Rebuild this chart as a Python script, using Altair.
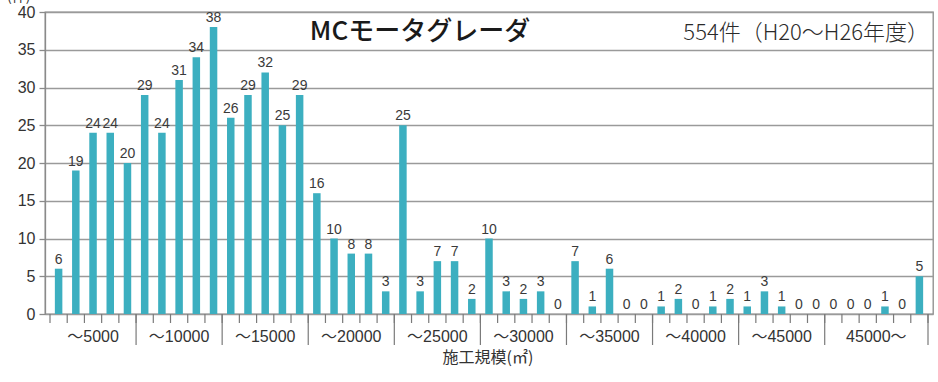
import altair as alt
import pandas as pd

# Number of works per 1,000 m2 construction-scale bin
counts = [
    6, 19, 24, 24, 20,
    29, 24, 31, 34, 38,
    26, 29, 32, 25, 29,
    16, 10, 8, 8, 3,
    25, 3, 7, 7, 2,
    10, 3, 2, 3, 0,
    7, 1, 6, 0, 0,
    1, 2, 0, 1, 2,
    1, 3, 1, 0, 0,
    0, 0, 0, 1, 0, 5,
]
group_labels = ["～5000", "～10000", "～15000", "～20000", "～25000",
                "～30000", "～35000", "～40000", "～45000", "45000～"]
group_sizes = [5, 5, 5, 5, 5, 5, 5, 5, 5, 6]
y_ticks = [0, 5, 10, 15, 20, 25, 30, 35, 40]

title_text = "MCモータグレーダ"
total_text = "554件（H20～H26年度）"
x_title = "施工規模(㎡)"
y_unit = "(件)"

n_bins = len(counts)
bars_df = pd.DataFrame({"i": list(range(n_bins)), "count": counts})

# group start / end in bin units
starts, s = [], 0
for g in group_sizes:
    starts.append(s)
    s += g
groups_df = pd.DataFrame({
    "label": group_labels,
    "start": starts,
    "size": group_sizes,
})
bounds_df = pd.DataFrame({"b": list(range(n_bins + 1))})
sep_df = pd.DataFrame({"b": starts[1:] + [n_bins]})

W, H = 888, 302
FONT = "Liberation Sans, Noto Sans CJK JP"
JFONT = "Noto Sans CJK JP"
BAR = "#3cafc0"
TXT = "#333333"

x_scale = alt.Scale(domain=[0, n_bins], nice=False, zero=False)
y_scale = alt.Scale(domain=[0, 40], nice=False)
y_axis = alt.Axis(values=y_ticks, title=None, grid=True,
                  gridColor="#9a9a9a", gridWidth=1.3,
                  domainColor="#8a8a8a", domainWidth=1.3,
                  tickColor="#8a8a8a", tickSize=6, tickWidth=1.3,
                  labelFont=FONT, labelFontSize=16,
                  labelColor=TXT, labelPadding=4)

bars = alt.Chart(bars_df).transform_calculate(
    c="datum.i + 0.5"
).mark_bar(color=BAR, width=7.5).encode(
    x=alt.X("c:Q", scale=x_scale, axis=None),
    y=alt.Y("count:Q", scale=y_scale, axis=y_axis),
)

values = alt.Chart(bars_df).transform_calculate(
    c="datum.i + 0.5"
).mark_text(font=FONT, fontSize=14, color="#3a3a3a", baseline="bottom", dy=-2).encode(
    x=alt.X("c:Q", scale=x_scale, axis=None),
    y=alt.Y("count:Q", scale=y_scale, axis=y_axis),
    text="count:Q",
)

# short ticks at every bin boundary
small_ticks = alt.Chart(bounds_df).mark_rule(color="#7a7a7a", strokeWidth=1.2).encode(
    x=alt.X("b:Q", scale=x_scale, axis=None),
    y=alt.value(H),
    y2=alt.value(H + 9),
)

# longer separators between groups
separators = alt.Chart(sep_df).mark_rule(color="#7a7a7a", strokeWidth=1.2).encode(
    x=alt.X("b:Q", scale=x_scale, axis=None),
    y=alt.value(H),
    y2=alt.value(H + 31),
)

group_text = alt.Chart(groups_df).transform_calculate(
    mid="datum.start + datum.size / 2"
).mark_text(font=FONT, fontSize=16, color=TXT, baseline="middle").encode(
    x=alt.X("mid:Q", scale=x_scale, axis=None),
    y=alt.value(H + 23),
    text="label:N",
)

xtitle = alt.Chart(pd.DataFrame({"t": [x_title]})).mark_text(
    font=JFONT, fontSize=16, color=TXT, baseline="middle"
).encode(x=alt.value(443), y=alt.value(H + 44), text="t:N")

ylabel = alt.Chart(pd.DataFrame({"t": [y_unit]})).mark_text(
    font=JFONT, fontSize=14, color=TXT, baseline="bottom", align="left"
).encode(x=alt.value(-38), y=alt.value(-8), text="t:N")

main_title = alt.Chart(pd.DataFrame({"t": [title_text]})).mark_text(
    font=JFONT, fontSize=26, fontWeight=500,
    color="#1a1a1a", baseline="middle"
).encode(x=alt.value(375), y=alt.value(20), text="t:N")

total = alt.Chart(pd.DataFrame({"t": [total_text]})).mark_text(
    font=JFONT, fontSize=22, fontWeight=300, color="#2a2a2a",
    baseline="middle", align="right"
).encode(x=alt.value(884), y=alt.value(21), text="t:N")

chart = alt.layer(
    bars, values, small_ticks, separators, group_text, xtitle, ylabel, main_title, total
).properties(
    width=W, height=H,
    autosize=alt.AutoSizeParams(type="none"),
    padding={"left": 45, "top": 12, "right": 5, "bottom": 68},
    background="white",
).configure_view(
    stroke="#8a8a8a", strokeWidth=1.3
)

chart.save("out.html", embed_options={"renderer": "svg", "actions": False})
